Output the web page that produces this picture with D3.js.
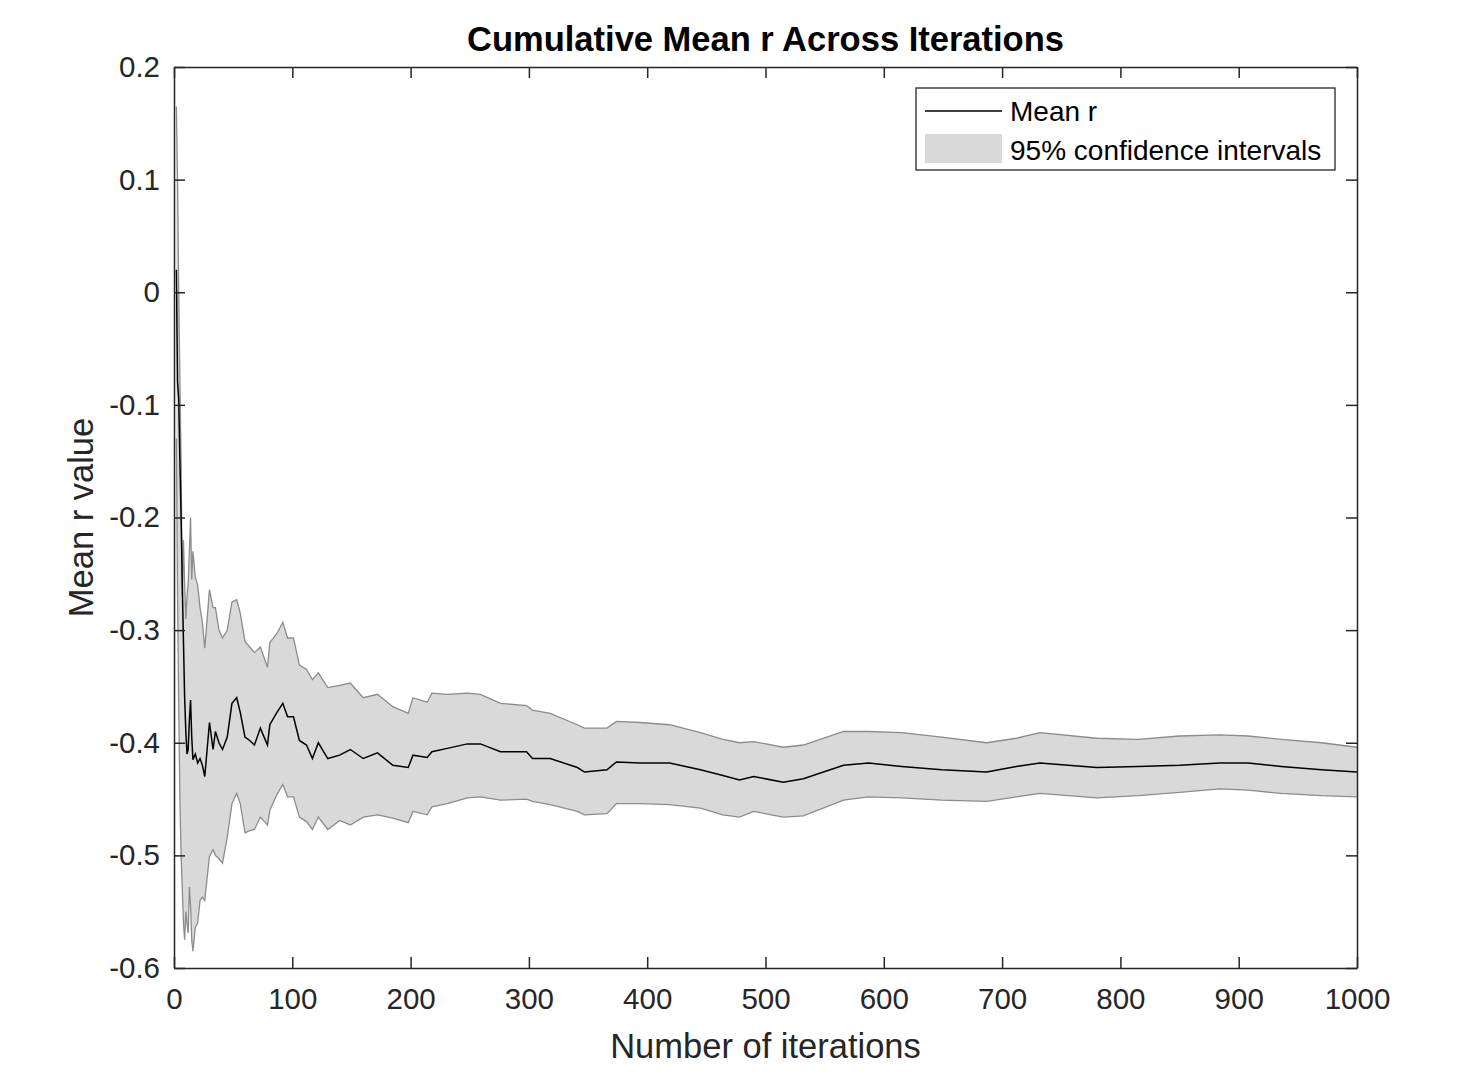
<!DOCTYPE html>
<html>
<head>
<meta charset="utf-8">
<script src="https://cdn.jsdelivr.net/npm/d3@7"></script>
<style>
  body { margin: 0; background: #fff; }
  svg { font-family: "Liberation Sans", Arial, sans-serif; }
</style>
</head>
<body>
<div id="chart"></div>
<script>
// values
const iterations = [2,3,4,5,6,7,8,9,10,11,12,13,14,15,16,18,20,22,24,26,28,30,33,35,38,41,45,49,53,56,60,64,68,73,79,81,87,92,96,101,106,112,117,122,130,140,149,160,172,185,198,202,214,218,231,248,259,276,298,303,318,341,347,366,374,394,419,445,464,478,490,515,532,566,587,615,649,687,712,732,780,815,850,884,908,936,970,1000];

const meanR = [0.02,-0.08,-0.095,-0.15,-0.2,-0.26,-0.31,-0.36,-0.39,-0.41,-0.406,-0.38,-0.362,-0.395,-0.415,-0.41,-0.418,-0.414,-0.42,-0.43,-0.406,-0.382,-0.406,-0.39,-0.4,-0.406,-0.395,-0.365,-0.36,-0.373,-0.395,-0.398,-0.402,-0.387,-0.402,-0.384,-0.373,-0.365,-0.377,-0.377,-0.398,-0.402,-0.414,-0.4,-0.414,-0.411,-0.406,-0.414,-0.409,-0.42,-0.422,-0.411,-0.413,-0.408,-0.405,-0.401,-0.401,-0.408,-0.408,-0.414,-0.414,-0.422,-0.426,-0.424,-0.417,-0.418,-0.418,-0.424,-0.429,-0.433,-0.43,-0.435,-0.432,-0.42,-0.418,-0.421,-0.424,-0.426,-0.421,-0.418,-0.422,-0.421,-0.42,-0.418,-0.418,-0.421,-0.424,-0.426];

const upperCI = [0.165,0.1,0.0,-0.08,-0.15,-0.27,-0.22,-0.26,-0.29,-0.27,-0.258,-0.23,-0.2,-0.255,-0.23,-0.253,-0.26,-0.28,-0.293,-0.316,-0.29,-0.264,-0.28,-0.28,-0.3,-0.307,-0.3,-0.275,-0.273,-0.285,-0.31,-0.315,-0.32,-0.315,-0.333,-0.311,-0.303,-0.293,-0.307,-0.307,-0.331,-0.335,-0.344,-0.338,-0.351,-0.349,-0.347,-0.36,-0.357,-0.368,-0.374,-0.36,-0.364,-0.356,-0.357,-0.356,-0.357,-0.365,-0.367,-0.371,-0.374,-0.384,-0.387,-0.387,-0.381,-0.382,-0.384,-0.391,-0.397,-0.4,-0.399,-0.404,-0.402,-0.39,-0.39,-0.391,-0.395,-0.4,-0.396,-0.391,-0.396,-0.397,-0.394,-0.393,-0.394,-0.397,-0.4,-0.404];

const lowerCI = [-0.13,-0.27,-0.37,-0.45,-0.5,-0.53,-0.56,-0.575,-0.55,-0.56,-0.569,-0.528,-0.545,-0.575,-0.585,-0.564,-0.56,-0.54,-0.537,-0.54,-0.52,-0.501,-0.495,-0.5,-0.503,-0.507,-0.484,-0.454,-0.445,-0.454,-0.48,-0.478,-0.477,-0.466,-0.473,-0.46,-0.446,-0.437,-0.448,-0.448,-0.466,-0.47,-0.477,-0.466,-0.477,-0.469,-0.473,-0.466,-0.464,-0.467,-0.471,-0.461,-0.464,-0.457,-0.454,-0.449,-0.448,-0.451,-0.45,-0.452,-0.455,-0.461,-0.464,-0.463,-0.454,-0.454,-0.455,-0.458,-0.464,-0.466,-0.461,-0.466,-0.465,-0.451,-0.448,-0.449,-0.451,-0.452,-0.448,-0.445,-0.449,-0.447,-0.444,-0.441,-0.442,-0.445,-0.447,-0.448];

const xTicks = [0,100,200,300,400,500,600,700,800,900,1000];
const yTicks = [0.2,0.1,0,-0.1,-0.2,-0.3,-0.4,-0.5,-0.6];

const W = 1475, H = 1073;
const margin = {left: 174, right: 118, top: 67, bottom: 105};
const axisColor = "#262626";

const svg = d3.select("#chart").append("svg")
    .attr("width", W)
    .attr("height", H);

const x = d3.scaleLinear().domain([0, 1000]).range([margin.left, W - margin.right]);
const y = d3.scaleLinear().domain([-0.6, 0.2]).range([H - margin.bottom, margin.top]);

const rows = iterations.map((it, i) => ({it: it, m: meanR[i], lo: lowerCI[i], hi: upperCI[i]}));

// confidence band
svg.append("path")
    .datum(rows)
    .attr("fill", "#d9d9d9")
    .attr("d", d3.area().x(d => x(d.it)).y0(d => y(d.lo)).y1(d => y(d.hi)));

const edge = (key) => d3.line().x(d => x(d.it)).y(d => y(d[key]));
["lo", "hi"].forEach(k => {
    svg.append("path")
        .datum(rows)
        .attr("fill", "none")
        .attr("stroke", "#8c8c8c")
        .attr("stroke-width", 1.3)
        .attr("d", edge(k));
});

svg.append("path")
    .datum(rows)
    .attr("fill", "none")
    .attr("stroke", "#000")
    .attr("stroke-width", 1.5)
    .attr("d", edge("m"));

// axes, MATLAB style box with inward ticks
const tickLen = 11;
const fmtY = d => d === 0 ? "0" : d3.format(".1f")(d).replace("\u2212", "-");
const fmtX = d => String(d);

const gx = svg.append("g")
    .attr("transform", `translate(0,${y(-0.6)})`)
    .call(d3.axisBottom(x).tickValues(xTicks).tickSizeInner(-tickLen).tickSizeOuter(0).tickPadding(20).tickFormat(fmtX));
const gxTop = svg.append("g")
    .attr("transform", `translate(0,${y(0.2)})`)
    .call(d3.axisTop(x).tickValues(xTicks).tickSizeInner(-tickLen).tickSizeOuter(0).tickFormat(""));
const gy = svg.append("g")
    .attr("transform", `translate(${x(0)},0)`)
    .call(d3.axisLeft(y).tickValues(yTicks).tickSizeInner(-tickLen).tickSizeOuter(0).tickPadding(14).tickFormat(fmtY));
const gyRight = svg.append("g")
    .attr("transform", `translate(${x(1000)},0)`)
    .call(d3.axisRight(y).tickValues(yTicks).tickSizeInner(-tickLen).tickSizeOuter(0).tickFormat(""));

[gx, gxTop, gy, gyRight].forEach(g => {
    g.select(".domain").attr("stroke", axisColor).attr("stroke-width", 1.5);
    g.selectAll(".tick line").attr("stroke", axisColor).attr("stroke-width", 1.5);
    g.selectAll(".tick text")
        .attr("fill", axisColor)
        .style("font-size", "29.5px")
        .style("font-family", "'Liberation Sans', Arial, sans-serif");
});

// titles
svg.append("text")
    .attr("x", (x(0) + x(1000)) / 2)
    .attr("y", 51)
    .attr("text-anchor", "middle")
    .style("font-size", "34.5px")
    .style("font-weight", "bold")
    .attr("fill", "#000")
    .text("Cumulative Mean r Across Iterations");

svg.append("text")
    .attr("x", (x(0) + x(1000)) / 2)
    .attr("y", 1058)
    .attr("text-anchor", "middle")
    .style("font-size", "34.5px")
    .attr("fill", axisColor)
    .text("Number of iterations");

svg.append("text")
    .attr("transform", `translate(93,${(y(0.2) + y(-0.6)) / 2}) rotate(-90)`)
    .attr("text-anchor", "middle")
    .style("font-size", "34.5px")
    .attr("fill", axisColor)
    .text("Mean r value");

// legend
const leg = svg.append("g").attr("transform", "translate(916,88)");
leg.append("rect")
    .attr("width", 419).attr("height", 82)
    .attr("fill", "#fff")
    .attr("stroke", axisColor).attr("stroke-width", 1.3);
leg.append("line")
    .attr("x1", 9).attr("x2", 86).attr("y1", 23).attr("y2", 23)
    .attr("stroke", "#000").attr("stroke-width", 1.3);
leg.append("rect")
    .attr("x", 9).attr("y", 46).attr("width", 77).attr("height", 29)
    .attr("fill", "#d9d9d9");
leg.append("text").attr("x", 94).attr("y", 33)
    .style("font-size", "28px").attr("fill", "#000").text("Mean r");
leg.append("text").attr("x", 94).attr("y", 72)
    .style("font-size", "28px").attr("fill", "#000").text("95% confidence intervals");
</script>
</body>
</html>
